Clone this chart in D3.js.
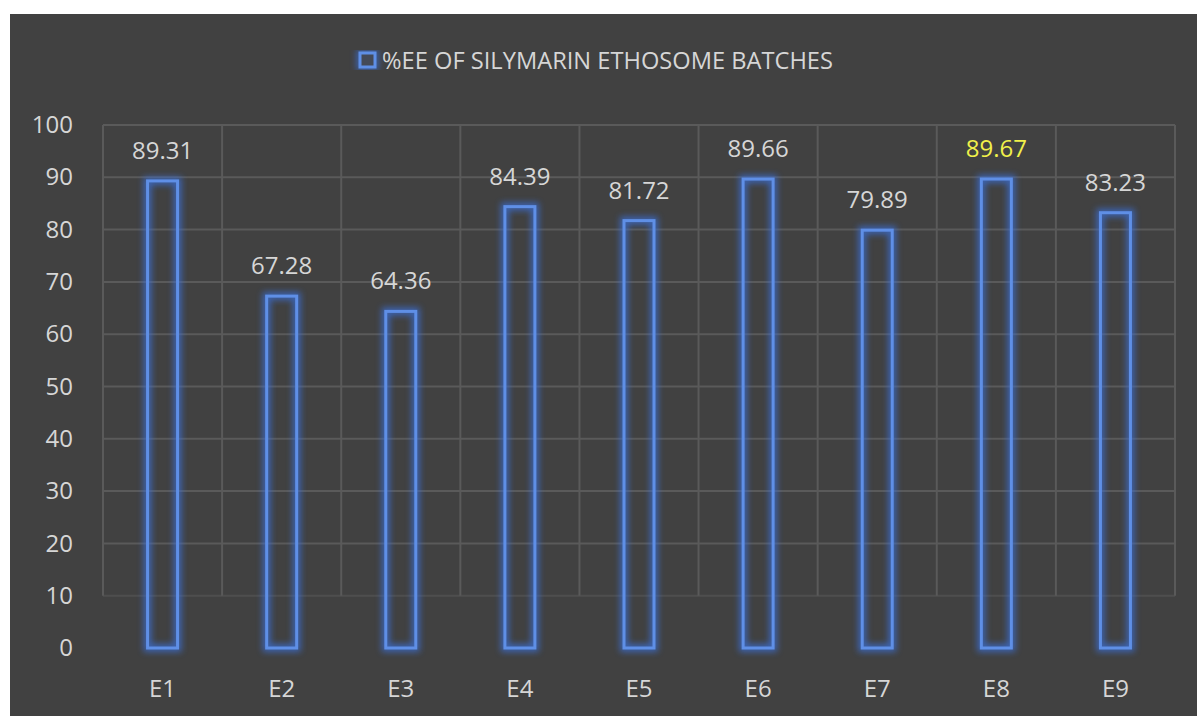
<!DOCTYPE html>
<html><head><meta charset="utf-8">
<script src="https://cdn.jsdelivr.net/npm/d3@7"></script>
<style>html,body{margin:0;padding:0;background:#fff;}svg{display:block;}</style>
</head><body>
<svg id="chart" width="1197" height="716"></svg>
<script>
const categories = ["E1","E2","E3","E4","E5","E6","E7","E8","E9"];
const values = [89.31,67.28,64.36,84.39,81.72,89.66,79.89,89.67,83.23];
const highlighted = ["E8"];
const yTicks = [0,10,20,30,40,50,60,70,80,90,100];
const seriesName = "%EE OF SILYMARIN ETHOSOME BATCHES";

(function(){
const svg = d3.select("#chart");
const W = 1197, H = 716;
const font = "'Open Sans', 'Noto Sans', sans-serif";
const txt = "#d6d6d6";

svg.append("rect").attr("x",10).attr("y",14).attr("width",W-10).attr("height",H-14).attr("fill","#414141");

const defs = svg.append("defs");
const blur = defs.append("filter").attr("id","blur").attr("x","-100%").attr("y","-20%").attr("width","300%").attr("height","140%");
blur.append("feGaussianBlur").attr("stdDeviation",3);

const pL = 103, pR = 1175, pT = 125, pB = 648;
const x = d3.scaleBand().domain(categories).range([pL,pR]).paddingInner(0).paddingOuter(0);
const y = d3.scaleLinear().domain([0,100]).range([pB,pT]);

// gridlines
const g = svg.append("g");
g.selectAll("line.h").data(yTicks.filter(d=>d>0)).join("line")
  .attr("x1",pL).attr("x2",pR).attr("y1",d=>y(d)).attr("y2",d=>y(d))
  .attr("stroke","#5a5a5a").attr("stroke-width",2)
  .attr("opacity",d=>d===10?0.55:1);
const vlines = categories.map(c=>x(c)).concat([pR]);
g.selectAll("line.v").data(vlines).join("line")
  .attr("x1",d=>d).attr("x2",d=>d).attr("y1",pT).attr("y2",y(10))
  .attr("stroke","#5a5a5a").attr("stroke-width",2);

// y axis labels
const yAxis = d3.axisLeft(y).tickValues(yTicks).tickSize(0).tickPadding(0);
const ya = svg.append("g").attr("transform",`translate(${pL-30},0)`).call(yAxis);
ya.select(".domain").remove();
ya.selectAll("text").attr("fill",txt).attr("font-size",24).attr("font-family",font);

// x axis labels
const xAxis = d3.axisBottom(x).tickSize(0).tickPadding(0);
const xa = svg.append("g").attr("transform",`translate(0,${pB+32})`).call(xAxis);
xa.select(".domain").remove();
xa.selectAll("text").attr("fill",txt).attr("font-size",24).attr("font-family",font);

// bars
const bw = 30;
const bx = (i)=>x(categories[i])+x.bandwidth()/2-bw/2;
const bars = svg.append("g");
bars.selectAll("rect.glow").data(values).join("rect").attr("class","glow")
  .attr("x",(d,i)=>bx(i)).attr("y",d=>y(d)).attr("width",bw).attr("height",d=>y(0)-y(d))
  .attr("fill","none").attr("stroke","#3b6fd8").attr("stroke-width",8).attr("opacity",0.75)
  .attr("filter","url(#blur)");
bars.selectAll("rect.bar").data(values).join("rect").attr("class","bar")
  .attr("x",(d,i)=>bx(i)).attr("y",d=>y(d)).attr("width",bw).attr("height",d=>y(0)-y(d))
  .attr("fill","none")
  .attr("stroke","#5f8fe6").attr("stroke-width",3);

// value labels
svg.append("g").selectAll("text").data(values).join("text")
  .attr("x",(d,i)=>x(categories[i])+x.bandwidth()/2)
  .attr("y",d=>y(d)-22)
  .attr("text-anchor","middle")
  .attr("font-size",24).attr("font-family",font)
  .attr("fill",(d,i)=>highlighted.includes(categories[i])?"#f0f04a":txt)
  .text(d=>d.toFixed(2));

// legend
const lg = svg.append("g");
lg.append("rect").attr("x",360).attr("y",53).attr("width",15).attr("height",14)
  .attr("fill","none").attr("stroke","#3b6fd8").attr("stroke-width",7).attr("opacity",0.7).attr("filter","url(#blur)");
lg.append("rect").attr("x",360).attr("y",53).attr("width",15).attr("height",14)
  .attr("fill","#444a58").attr("stroke","#5f8fe6").attr("stroke-width",3);
lg.append("text").attr("x",382).attr("y",69).attr("font-size",23).attr("font-family",font)
  .attr("fill",txt).attr("textLength",451).attr("lengthAdjust","spacingAndGlyphs").text(seriesName);
})();
</script>
</body></html>
